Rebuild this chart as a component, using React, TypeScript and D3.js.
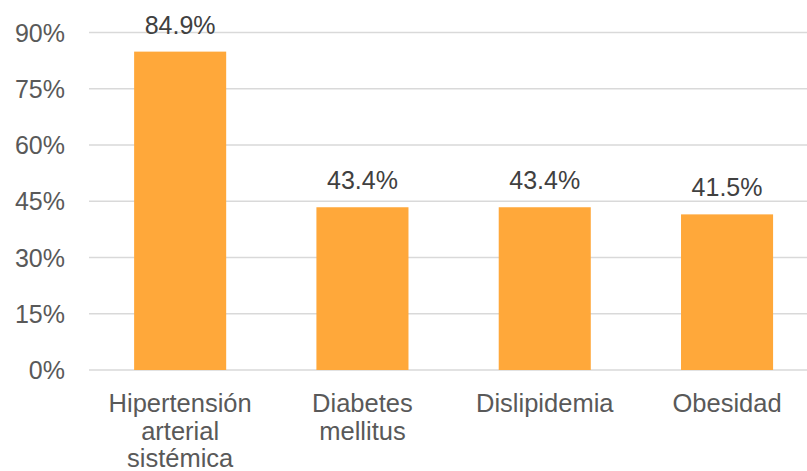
import { useEffect, useRef } from 'react';
import * as d3 from 'd3';

const categorias = [
  ['Hipertensión', 'arterial', 'sistémica'],
  ['Diabetes', 'mellitus'],
  ['Dislipidemia'],
  ['Obesidad'],
];
const valores = [84.9, 43.4, 43.4, 41.5];
const ticksY = [0, 15, 30, 45, 60, 75, 90];

const App = () => {
  const svgRef = useRef<SVGSVGElement>(null);

  useEffect(() => {
    const width = 807;
    const height = 471;
    const margin = { top: 32.5, left: 89, bottom: 101 };

    const svg = d3.select(svgRef.current);
    svg.selectAll('*').remove();

    const keys = categorias.map((c) => c.join(' '));
    const x = d3.scaleBand<string>()
      .domain(keys)
      .range([margin.left, margin.left + 4 * 182.3])
      .paddingInner(0.495)
      .paddingOuter(0.2475);

    const y = d3.scaleLinear()
      .domain([0, 90])
      .range([height - margin.bottom, margin.top]);

    // Líneas de cuadrícula
    svg.append('g')
      .selectAll('line')
      .data(ticksY)
      .join('line')
      .attr('x1', margin.left)
      .attr('x2', width)
      .attr('y1', (d) => y(d))
      .attr('y2', (d) => y(d))
      .attr('stroke', '#d9d9d9')
      .attr('stroke-width', 1.3);

    // Etiquetas eje Y
    svg.append('g')
      .selectAll('text')
      .data(ticksY)
      .join('text')
      .attr('x', 65)
      .attr('y', (d) => y(d))
      .attr('dy', '0.36em')
      .attr('text-anchor', 'end')
      .attr('fill', '#595959')
      .style('font-size', '25px')
      .text((d) => `${d}%`);

    // Barras
    svg.append('g')
      .selectAll('rect')
      .data(valores)
      .join('rect')
      .attr('x', (_, i) => x(keys[i])!)
      .attr('width', x.bandwidth())
      .attr('y', (d) => y(d))
      .attr('height', (d) => y(0) - y(d))
      .attr('fill', '#ffa83a');

    // Valores
    svg.append('g')
      .selectAll('text')
      .data(valores)
      .join('text')
      .attr('x', (_, i) => x(keys[i])! + x.bandwidth() / 2)
      .attr('y', (d) => y(d) - 18)
      .attr('text-anchor', 'middle')
      .attr('fill', '#404040')
      .style('font-size', '25px')
      .text((d) => `${d.toFixed(1)}%`);

    // Categorías
    const cat = svg.append('g')
      .selectAll('text')
      .data(categorias)
      .join('text')
      .attr('x', (_, i) => x(keys[i])! + x.bandwidth() / 2)
      .attr('y', 412)
      .attr('text-anchor', 'middle')
      .attr('fill', '#595959')
      .style('font-size', '25.5px');

    cat.selectAll('tspan')
      .data((d) => d)
      .join('tspan')
      .attr('x', function () {
        return (this as SVGTSpanElement).parentElement!.getAttribute('x');
      })
      .attr('dy', (_, j) => (j === 0 ? 0 : 27.5))
      .text((d) => d);
  }, []);

  return (
    <svg
      ref={svgRef}
      width={807}
      height={471}
      style={{ position: 'absolute', left: 0, top: 0, background: '#fff', fontFamily: '"Liberation Sans", Arial, sans-serif' }}
    />
  );
};

export default App;
